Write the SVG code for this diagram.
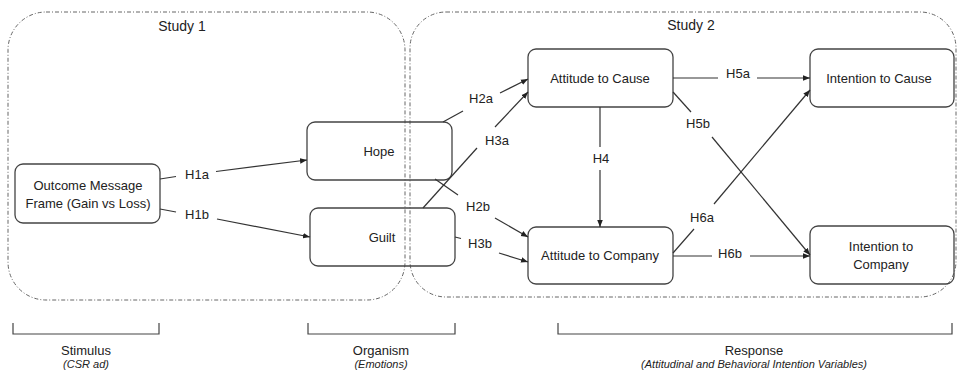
<svg xmlns="http://www.w3.org/2000/svg" width="958" height="370" viewBox="0 0 958 370">
<style>
text{font-family:"Liberation Sans",Arial,sans-serif;fill:#222;font-size:13px;text-anchor:middle;dominant-baseline:central}
.big{font-size:14px}
.sub{font-size:11px;font-style:italic}
.node rect{fill:none;stroke:#444;stroke-width:1.3}
.study{fill:none;stroke:#666;stroke-width:1;stroke-dasharray:4 2 1 2}
.conn line{stroke:#333;stroke-width:1.2}
.arr{marker-end:url(#ah)}
.br{fill:none;stroke:#444;stroke-width:1.2}
</style>
<defs>
<marker id="ah" viewBox="0 0 10 10" refX="10" refY="5" markerWidth="7" markerHeight="7" markerUnits="userSpaceOnUse" orient="auto">
<path d="M0,1 L10,5 L0,9 z" fill="#222"/>
</marker>
</defs>
<rect width="958" height="370" fill="#fff"/>
<g id="study1">
<rect class="study" x="8" y="12" width="397" height="288" rx="38" ry="38"/>
<text class="big" x="182" y="26">Study 1</text>
</g>
<g id="study2">
<rect class="study" x="410" y="12" width="546" height="285" rx="36" ry="36"/>
<text class="big" x="691" y="25">Study 2</text>
</g>
<g id="outcome" class="node">
<rect x="15" y="164" width="145" height="59" rx="8"/>
<text x="88" y="185">Outcome Message</text>
<text x="88" y="203">Frame (Gain vs Loss)</text>
</g>
<g id="hope" class="node">
<rect x="307" y="122" width="145" height="58" rx="8"/>
<text x="379" y="151">Hope</text>
</g>
<g id="guilt" class="node">
<rect x="310" y="208" width="145" height="58" rx="8"/>
<text x="382" y="237">Guilt</text>
</g>
<g id="att-cause" class="node">
<rect x="528" y="49" width="145" height="58" rx="8"/>
<text x="600" y="78">Attitude to Cause</text>
</g>
<g id="int-cause" class="node">
<rect x="810" y="49" width="144" height="58" rx="8"/>
<text x="879" y="78">Intention to Cause</text>
</g>
<g id="att-company" class="node">
<rect x="528" y="227" width="145" height="57" rx="8"/>
<text x="600" y="255">Attitude to Company</text>
</g>
<g id="int-company" class="node">
<rect x="810" y="226" width="144" height="58" rx="8"/>
<text x="881" y="246">Intention to</text>
<text x="881" y="264">Company</text>
</g>
<g id="connectors" class="conn">
<line x1="160" y1="179" x2="176" y2="176.5"/><line class="arr" x1="216" y1="171.5" x2="307" y2="160"/>
<line x1="160" y1="209" x2="176" y2="212"/><line class="arr" x1="217" y1="219" x2="310" y2="237"/>
<line x1="443" y1="122" x2="463" y2="111"/><line class="arr" x1="500" y1="93" x2="528" y2="79"/>
<line x1="423" y1="208" x2="477" y2="148"/><line class="arr" x1="495" y1="127" x2="528" y2="92"/>
<line x1="435" y1="179" x2="458" y2="195"/><line class="arr" x1="495" y1="218" x2="528" y2="237"/>
<line x1="455" y1="237" x2="461" y2="238.5"/><line class="arr" x1="499" y1="253" x2="528" y2="262"/>
<line x1="600" y1="107" x2="600" y2="147"/><line class="arr" x1="600" y1="170" x2="600" y2="227"/>
<line x1="673" y1="78" x2="718" y2="78"/><line class="arr" x1="757" y1="78" x2="810" y2="78"/>
<line x1="673" y1="92" x2="691" y2="112"/><line class="arr" x1="712" y1="137" x2="810" y2="255"/>
<line x1="673" y1="253" x2="694" y2="229"/><line class="arr" x1="714" y1="204" x2="810" y2="90"/>
<line x1="673" y1="256" x2="712" y2="256"/><line class="arr" x1="750" y1="256" x2="810" y2="256"/>
</g>
<g id="labels">
<text x="197" y="174">H1a</text>
<text x="197" y="214">H1b</text>
<text x="481" y="98">H2a</text>
<text x="497" y="140">H3a</text>
<text x="478" y="206">H2b</text>
<text x="480" y="243">H3b</text>
<text x="601" y="158">H4</text>
<text x="738" y="73">H5a</text>
<text x="698" y="123">H5b</text>
<text x="702" y="217">H6a</text>
<text x="730" y="253">H6b</text>
</g>
<g id="stimulus">
<path class="br" d="M13,323 V334 H159 V323"/>
<text x="86" y="350">Stimulus</text>
<text class="sub" x="86" y="364">(CSR ad)</text>
</g>
<g id="organism">
<path class="br" d="M308,323 V334 H455 V323"/>
<text x="381" y="350">Organism</text>
<text class="sub" x="381" y="364">(Emotions)</text>
</g>
<g id="response">
<path class="br" d="M558,323 V334 H952 V323"/>
<text x="754" y="350">Response</text>
<text class="sub" x="754" y="364">(Attitudinal and Behavioral Intention Variables)</text>
</g>
</svg>
